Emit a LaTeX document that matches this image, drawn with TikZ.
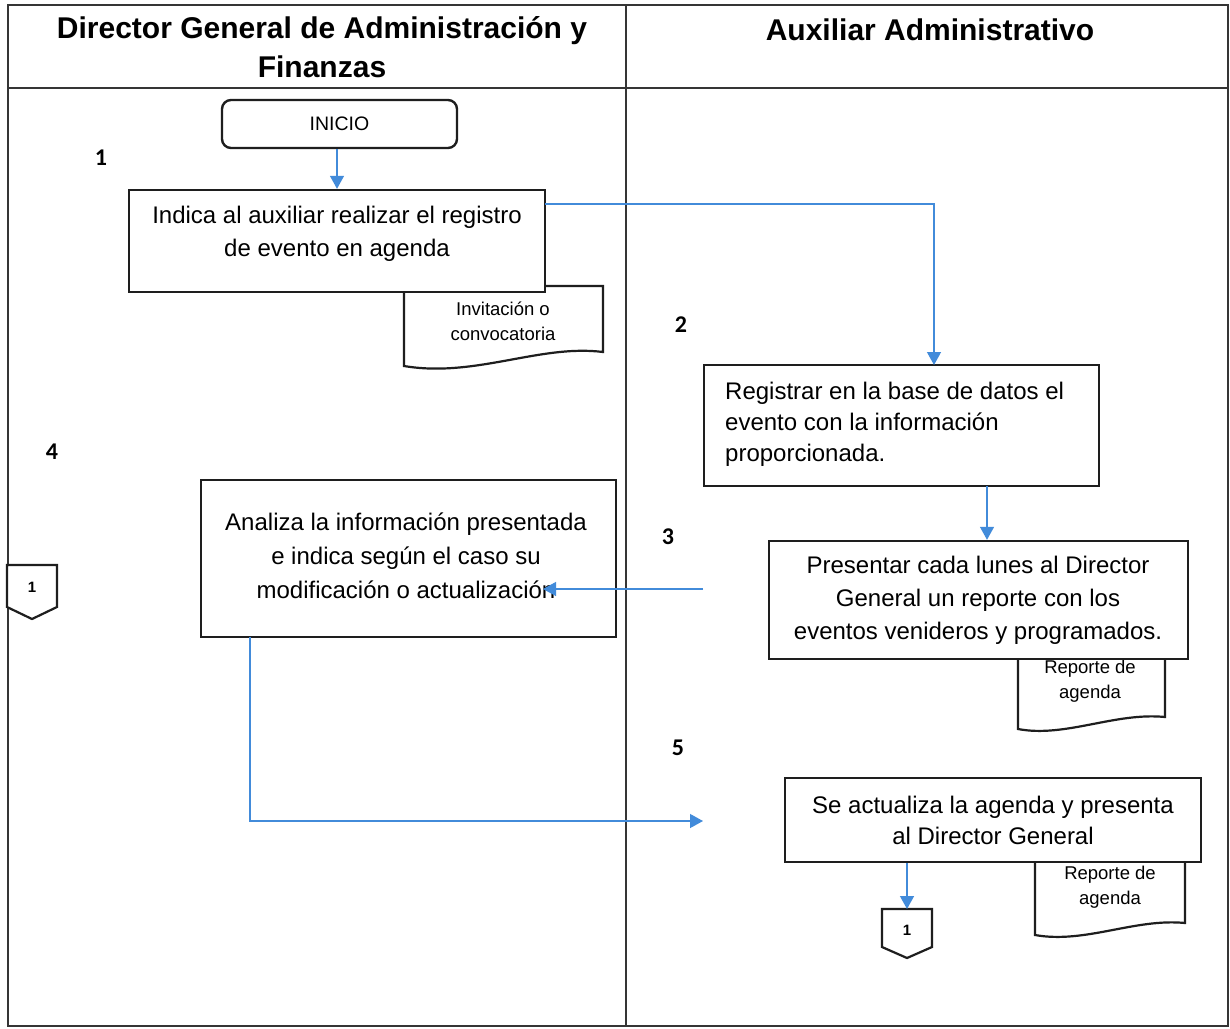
\documentclass[tikz,border=0pt]{standalone}
\usepackage{fontspec}
\setmainfont{Liberation Sans}
\newfontfamily\stepfont{Carlito}
\usetikzlibrary{arrows.meta}
\definecolor{flowblue}{RGB}{66,139,218}
\definecolor{ink}{RGB}{30,30,30}

\begin{document}
\begin{tikzpicture}[x=1pt,y=-1pt,
  lane/.style={draw=ink!90, line width=1.1pt},
  procbox/.style={draw=ink, line width=2.4pt, fill=white, rectangle, inner sep=0pt},
  startbox/.style={procbox, rounded corners=9pt},
  boxtext/.style={font=\fontsize{24}{33}\selectfont, align=center, inner sep=0pt},
  doctext/.style={font=\fontsize{18.5}{25}\selectfont, align=center, inner sep=0pt},
  docshape/.style={draw=ink, line width=2.2pt, fill=white},
  pageref/.style={draw=ink, line width=2.2pt, fill=white},
  reftext/.style={font=\bfseries\fontsize{15}{15}\selectfont, inner sep=0pt},
  stepnum/.style={font=\stepfont\bfseries\fontsize{24}{24}\selectfont, inner sep=0pt},
  title/.style={font=\bfseries\fontsize{30}{39}\selectfont, align=center, inner sep=0pt},
  flow/.style={draw=flowblue, line width=1.3pt, -{Triangle[length=13pt,width=14pt]}},
]
\useasboundingbox (0,0) rectangle (1230,1028);
\fill[white] (0,0) rectangle (1230,1028);

% swimlane table
\draw[lane] (8,5) rectangle (1228,1026);
\draw[lane] (8,88) -- (1228,88);
\draw[lane] (626,5) -- (626,1026);
\node[title] (h1) at (322,47) {Director General de Administración y\\Finanzas};
\node[title] (h2) at (930,30) {Auxiliar Administrativo};

% step numbers
\node[stepnum] (n1) at (101,158) {1};
\node[stepnum] (n2) at (681,325) {2};
\node[stepnum] (n4) at (52,452) {4};
\node[stepnum] (n3) at (668,537) {3};
\node[stepnum] (n5) at (678,748) {5};

% documents (drawn first, the process boxes cover their tops)
\draw[docshape] (404,286) -- (603,286) -- (603,352)
  .. controls (540,344) and (475,378) .. (404,366) -- cycle;
\node[doctext] (d1) at (503,321) {Invitación o\\convocatoria};

\draw[docshape] (1018,650) -- (1165,650) -- (1165,717)
  .. controls (1115,712) and (1065,738) .. (1018,729) -- cycle;
\node[doctext] (d2) at (1090,681) {Reporte de\\agenda};

\draw[docshape] (1035,850) -- (1185,850) -- (1185,923)
  .. controls (1135,918) and (1085,944) .. (1035,935) -- cycle;
\node[doctext] (d3) at (1110,887) {Reporte de\\agenda};

% start and process boxes
\node[startbox, minimum width=235pt, minimum height=48pt] (start) at (339.5,124)
  {\fontsize{19.5}{19.5}\selectfont INICIO};

\node[procbox, minimum width=416pt, minimum height=102pt] (b1) at (337,241) {};
\node[boxtext] (t1) at (337,234) {Indica al auxiliar realizar el registro\\de evento en agenda};

\node[procbox, minimum width=395pt, minimum height=121pt] (b2) at (901.5,425.5) {};
\node[boxtext, align=left, anchor=west, font=\fontsize{24}{31}\selectfont] (t2) at (725,424)
  {Registrar en la base de datos el\\evento con la información\\proporcionada.};

\node[procbox, minimum width=419pt, minimum height=118pt] (b3) at (978.5,600) {};
\node[boxtext] (t3) at (978,600)
  {Presentar cada lunes al Director\\General un reporte con los\\eventos venideros y programados.};

\node[procbox, minimum width=415pt, minimum height=157pt] (b4) at (408.5,558.5) {};
\node[boxtext, font=\fontsize{24}{34}\selectfont] (t4) at (406,556)
  {Analiza la información presentada\\e indica según el caso su\\modificación o actualización};

\node[procbox, minimum width=416pt, minimum height=84pt] (b5) at (993,820) {};
\node[boxtext, font=\fontsize{24}{31}\selectfont] (t5) at (993,820)
  {Se actualiza la agenda y presenta\\al Director General};

% off-page connectors
\draw[pageref] (7,565) -- (57,565) -- (57,607) -- (32,619) -- (7,607) -- cycle;
\node[reftext] (k1) at (32,587) {1};
\draw[pageref] (882,909) -- (932,909) -- (932,947) -- (907,958) -- (882,947) -- cycle;
\node[reftext] (k2) at (907,930) {1};
\coordinate (k2top) at (907,909);

% connector end points
\coordinate (b1r) at (545,204);
\coordinate (b2top) at (934,365);
\coordinate (b2b) at (987,486);
\coordinate (b3out) at (703,589);
\coordinate (b4in) at (543,589);
\coordinate (b4b) at (250,637);
\coordinate (b5in) at (703,821);

% flow arrows
\draw[flow] (start.south -| b1.north) -- (b1.north);
\draw[flow] (b1r) -| (b2top);
\draw[flow] (b2b) -- (b2b |- b3.north);
\draw[flow] (b3out) -- (b4in);
\draw[flow] (b4b) |- (b5in);
\draw[flow] (b5.south -| k2top) -- (k2top);
\end{tikzpicture}
\end{document}
